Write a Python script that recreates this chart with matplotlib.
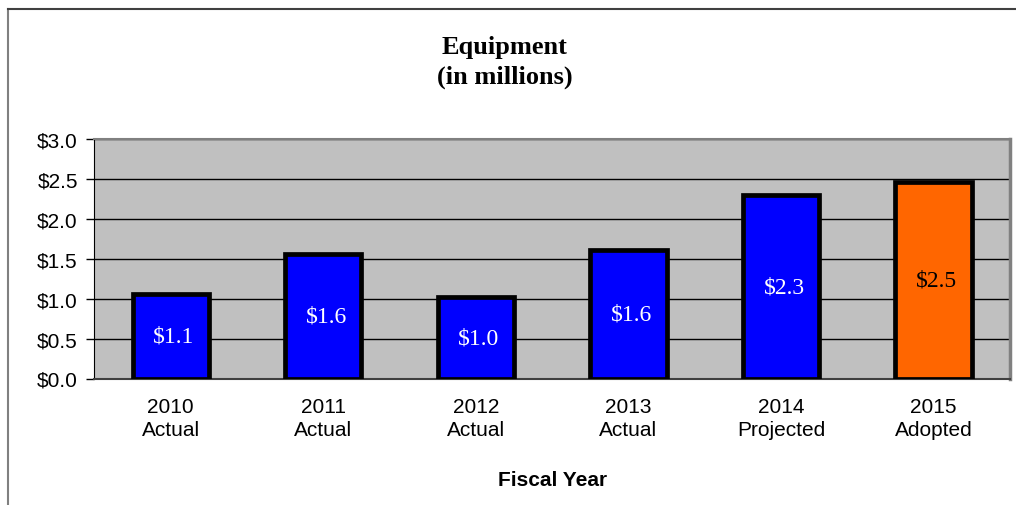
import matplotlib.pyplot as plt
from matplotlib.lines import Line2D

# ── Data ──────────────────────────────────────────────────────────────────────
years    = ["2010", "2011", "2012", "2013", "2014", "2015"]
statuses = ["Actual", "Actual", "Actual", "Actual", "Projected", "Adopted"]
amounts  = [1.06, 1.56, 1.02, 1.61, 2.30, 2.46]   # $ millions
labels   = ["$1.1", "$1.6", "$1.0", "$1.6", "$2.3", "$2.5"]

y_ticks  = [0.0, 0.5, 1.0, 1.5, 2.0, 2.5, 3.0]

BLUE   = "#0000FF"
ORANGE = "#FF6600"
colors = [BLUE] * 5 + [ORANGE]
text_colors = ["white"] * 5 + ["black"]

# ── Figure ────────────────────────────────────────────────────────────────────
fig = plt.figure(figsize=(10.16, 5.06), dpi=100)
ax = fig.add_axes([0.093, 0.25, 0.901, 0.473])

ax.set_facecolor("#C0C0C0")
x = range(len(years))
ax.bar(x, amounts, width=0.5, color=colors, edgecolor="black",
       linewidth=3.4, zorder=3)

for xi, val, lab, tc in zip(x, amounts, labels, text_colors):
    ax.text(xi + 0.02, val / 2, lab, ha="center", va="center", color=tc,
            fontsize=17, family="Liberation Serif", zorder=4)

ax.set_xlim(-0.5, len(years) - 0.5)
ax.set_ylim(0, 3.0)
ax.set_yticks(y_ticks)
ax.set_yticklabels([f"${v:.1f}" for v in y_ticks],
                   fontsize=15, family="Liberation Sans")
ax.set_xticks(list(x))
ax.set_xticklabels([f"{y}\n{s}" for y, s in zip(years, statuses)],
                   fontsize=15, family="Liberation Sans", linespacing=1.3)
ax.tick_params(axis="x", length=0, pad=13)
ax.tick_params(axis="y", length=6, width=1, direction="out", pad=6)

ax.grid(True, axis="y", color="black", linewidth=1.0, zorder=1)
ax.set_axisbelow(True)

for side in ("top", "right"):
    ax.spines[side].set_color("#808080")
ax.spines["top"].set_linewidth(1.5)
ax.spines["right"].set_linewidth(2.5)
ax.spines["left"].set_color("black")
ax.spines["bottom"].set_color("#404040")
ax.spines["bottom"].set_linewidth(1.5)

ax.set_xlabel("Fiscal Year", fontsize=15, fontweight="bold",
              family="Liberation Sans", labelpad=22)

fig.text(0.497, 0.876, "Equipment\n(in millions)", ha="center", va="center",
         fontsize=19, fontweight="bold", family="Liberation Serif",
         linespacing=1.38)

# chart frame (left and top edges)
fig.add_artist(Line2D([8 / 1016, 8 / 1016], [0, 1 - 9.5 / 506],
                      transform=fig.transFigure, color="#808080", lw=1.5))
fig.add_artist(Line2D([8 / 1016, 1], [1 - 9.5 / 506, 1 - 9.5 / 506],
                      transform=fig.transFigure, color="#404040", lw=1.5))

fig.savefig("out.png", dpi=100)
